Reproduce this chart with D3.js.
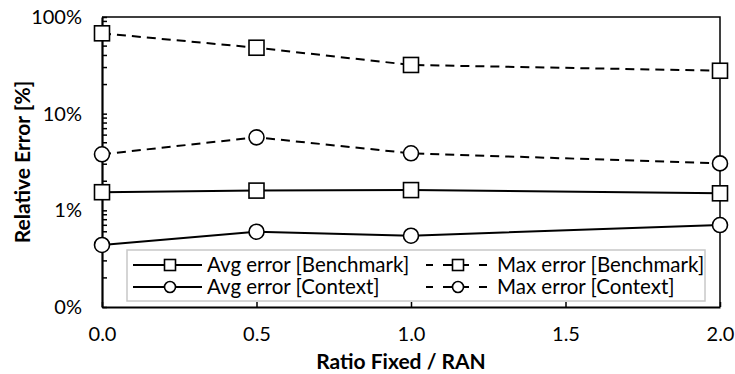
<!DOCTYPE html>
<html>
<head>
<meta charset="utf-8">
<script src="https://cdn.jsdelivr.net/npm/d3@7"></script>
<style>
  html, body { margin: 0; padding: 0; background: #fff; }
  svg { display: block; font-family: Lato, "Open Sans", sans-serif; }
</style>
</head>
<body>
<svg id="chart" width="735" height="374"></svg>
<script>
// Ratio of fixed to RAN traffic (x) and relative error in percent (y, log scale)
const ratios = [0.0, 0.5, 1.0, 2.0];
const avgBenchmark = [1.54, 1.60, 1.62, 1.50];
const maxBenchmark = [67.8, 48.1, 31.9, 27.8];
const avgContext = [0.438, 0.601, 0.546, 0.705];
const maxContext = [3.80, 5.69, 3.89, 3.06];

const xTicks = [0, 0.5, 1.0, 1.5, 2.0];
const yTicks = [0.1, 1, 10, 100];

const seriesList = [
  { name: "Avg error [Benchmark]", values: avgBenchmark, marker: "square", dashed: false },
  { name: "Avg error [Context]", values: avgContext, marker: "circle", dashed: false },
  { name: "Max error [Benchmark]", values: maxBenchmark, marker: "square", dashed: true },
  { name: "Max error [Context]", values: maxContext, marker: "circle", dashed: true }
];

const svg = d3.select("#chart");
const margin = { left: 102, right: 15, top: 17, bottom: 67 };
const W = 735, H = 374;

const x = d3.scaleLinear().domain([0, 2]).range([margin.left, W - margin.right]);
const y = d3.scaleLog().domain([0.1, 100]).range([H - margin.bottom, margin.top]);

// plot frame (top and right)
svg.append("path")
  .attr("d", `M${x(0)},${y(100)}H${x(2)}V${y(0.1)}`)
  .attr("fill", "none").attr("stroke", "#000").attr("stroke-width", 1.5);

// minor y ticks within each decade, drawn inward
const minor = [];
for (let d = 0.1; d < 100; d *= 10) {
  for (let k = 2; k <= 9; k++) minor.push(+(d * k).toPrecision(3));
}
svg.append("g").selectAll("line").data(minor).join("line")
  .attr("x1", x(0)).attr("x2", x(0) + 5)
  .attr("y1", d => y(d)).attr("y2", d => y(d))
  .attr("stroke", "#000").attr("stroke-width", 1.5);

// y axis
const yAxis = d3.axisLeft(y).tickValues(yTicks)
  .tickFormat(d => d3.format(".0f")(d) + "%")
  .tickSizeInner(-5).tickSizeOuter(0).tickPadding(20);
const gy = svg.append("g").attr("transform", `translate(${x(0)},0)`).call(yAxis);
gy.select(".domain").attr("stroke-width", 2.2);
gy.selectAll(".tick line").attr("stroke-width", 1.5);
gy.selectAll(".tick text").attr("font-size", 20).attr("fill", "#000")
  .attr("font-family", "Lato, sans-serif");

// x axis
const xAxis = d3.axisBottom(x).tickValues(xTicks)
  .tickFormat(d3.format(".1f"))
  .tickSizeInner(-5).tickSizeOuter(0).tickPadding(20);
const gx = svg.append("g").attr("transform", `translate(0,${y(0.1)})`).call(xAxis);
gx.select(".domain").attr("stroke-width", 2.2);
gx.selectAll(".tick line").attr("stroke-width", 1.5);
gx.selectAll(".tick text").attr("font-size", 20).attr("fill", "#000")
  .attr("font-family", "Lato, sans-serif");

// axis titles
svg.append("text")
  .attr("x", 401).attr("y", 369)
  .attr("text-anchor", "middle").attr("font-weight", "bold").attr("font-size", 21)
  .text("Ratio Fixed / RAN");
svg.append("text")
  .attr("transform", `translate(30,${(y(0.1) + y(100)) / 2}) rotate(-90)`)
  .attr("text-anchor", "middle").attr("font-weight", "bold").attr("font-size", 21)
  .text("Relative Error [%]");

// series lines
const line = d3.line().x((d, i) => x(ratios[i])).y(d => y(d));
const plot = svg.append("g");
seriesList.forEach(s => {
  plot.append("path")
    .attr("d", line(s.values))
    .attr("fill", "none").attr("stroke", "#000").attr("stroke-width", 2)
    .attr("stroke-dasharray", s.dashed ? "9,6" : null);
});

function drawMarker(g, type, cx, cy, size) {
  if (type === "square") {
    g.append("rect")
      .attr("x", cx - size / 2).attr("y", cy - size / 2)
      .attr("width", size).attr("height", size)
      .attr("fill", "#fff").attr("stroke", "#000").attr("stroke-width", 1.6);
  } else {
    g.append("circle")
      .attr("cx", cx).attr("cy", cy).attr("r", size / 2)
      .attr("fill", "#fff").attr("stroke", "#000").attr("stroke-width", 1.6);
  }
}

// legend box
const lg = svg.append("g");
lg.append("rect")
  .attr("x", 127).attr("y", 250).attr("width", 578).attr("height", 51)
  .attr("fill", "#fff").attr("stroke", "#c8c8c8").attr("stroke-width", 1.5);

// series markers
seriesList.forEach(s => {
  s.values.forEach((v, i) => drawMarker(plot, s.marker, x(ratios[i]), y(v), 15));
});
plot.raise();

const legendPos = [
  { lx: 133, ly: 265 }, { lx: 133, ly: 287 },
  { lx: 426, ly: 265 }, { lx: 426, ly: 287 }
];
seriesList.forEach((s, i) => {
  const p = legendPos[i];
  const g = lg.append("g");
  if (!s.dashed) {
    g.append("line").attr("x1", p.lx).attr("x2", p.lx + 69)
      .attr("y1", p.ly).attr("y2", p.ly)
      .attr("stroke", "#000").attr("stroke-width", 2);
    drawMarker(g, s.marker, p.lx + 37, p.ly, 11);
    g.append("text").attr("x", p.lx + 74).attr("y", p.ly).attr("dy", "0.36em")
      .attr("font-size", 20.5).text(s.name);
  } else {
    g.append("line").attr("x1", p.lx).attr("x2", p.lx + 61)
      .attr("y1", p.ly).attr("y2", p.ly)
      .attr("stroke", "#000").attr("stroke-width", 2)
      .attr("stroke-dasharray", "7,10,26,10,8");
    drawMarker(g, s.marker, p.lx + 32, p.ly, 11);
    g.append("text").attr("x", p.lx + 71).attr("y", p.ly).attr("dy", "0.36em")
      .attr("font-size", 20.5).text(s.name);
  }
});
</script>
</body>
</html>
